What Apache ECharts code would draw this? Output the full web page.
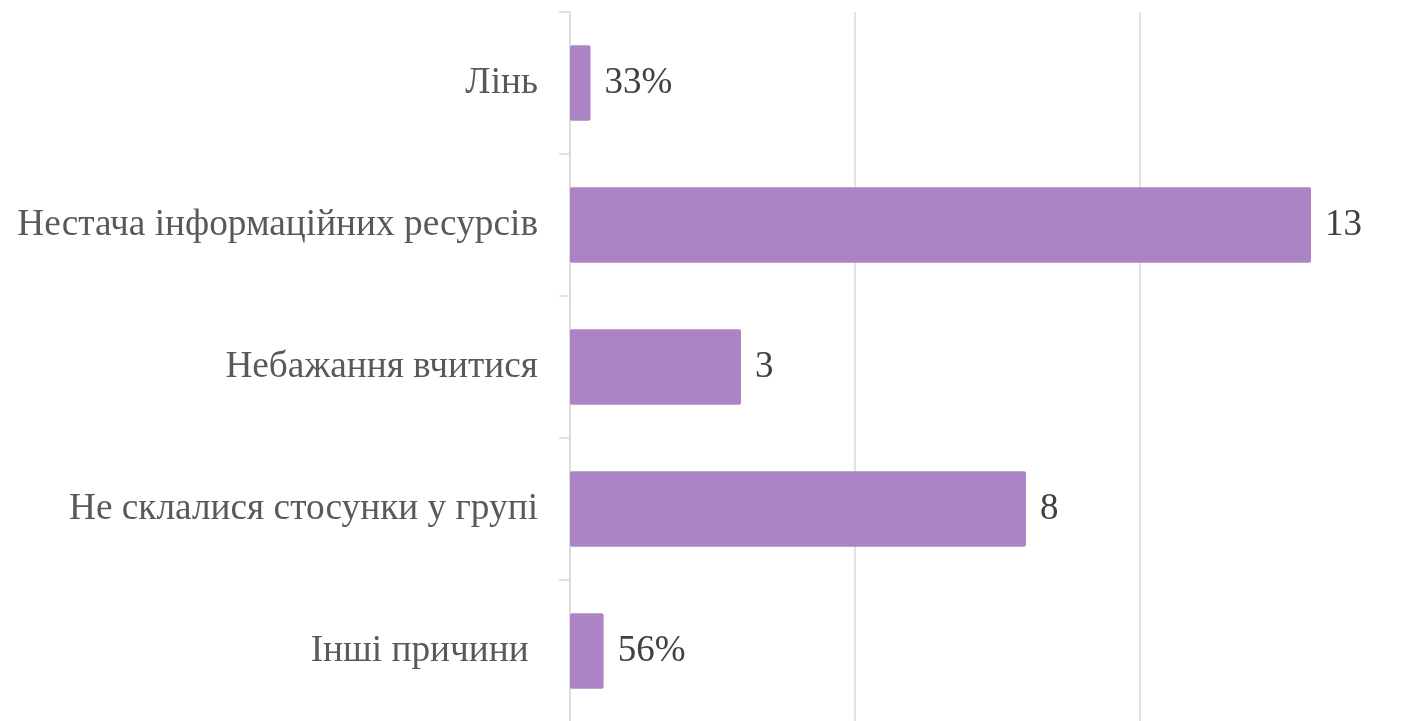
<!DOCTYPE html>
<html>
<head>
<meta charset="utf-8">
<script src="https://cdn.jsdelivr.net/npm/echarts@6/dist/echarts.min.js"></script>
<style>
html,body{margin:0;padding:0;background:#fff;}
#chart{width:1402px;height:721px;}
</style>
</head>
<body>
<div id="chart"></div>
<script>
const categories = ['Лінь', 'Нестача інформаційних ресурсів', 'Небажання вчитися', 'Не склалися стосунки у групі', 'Інші причини '];
const values = [0.36, 13, 3, 8, 0.59];
const valueLabels = ['33%', '13', '3', '8', '56%'];

const chart = echarts.init(document.getElementById('chart'));
chart.setOption({
  animation: false,
  grid: { left: 570, width: 855, top: 12, height: 710, containLabel: false, outerBoundsMode: 'none' },
  xAxis: {
    type: 'value', min: 0, max: 15, interval: 5,
    axisLabel: { show: false }, axisLine: { show: false }, axisTick: { show: false },
    splitLine: { show: true, lineStyle: { color: '#d9d9d9', width: 1.5 } }
  },
  yAxis: {
    type: 'category', data: categories, inverse: true,
    axisLine: { show: true, lineStyle: { color: '#d9d9d9', width: 1.5 } },
    axisTick: { show: true, length: 11, lineStyle: { color: '#d9d9d9', width: 1.5 } },
    axisLabel: { margin: 32, color: '#595959', fontFamily: 'Liberation Serif', fontSize: 37.3 }
  },
  series: [{
    type: 'bar', data: values, barCategoryGap: '47%',
    itemStyle: { color: '#ac84c6', borderRadius: 2 },
    label: {
      show: true, position: 'right', distance: 14,
      formatter: p => valueLabels[p.dataIndex],
      color: '#404040', fontFamily: 'Liberation Serif', fontSize: 37
    }
  }]
});
</script>
</body>
</html>
